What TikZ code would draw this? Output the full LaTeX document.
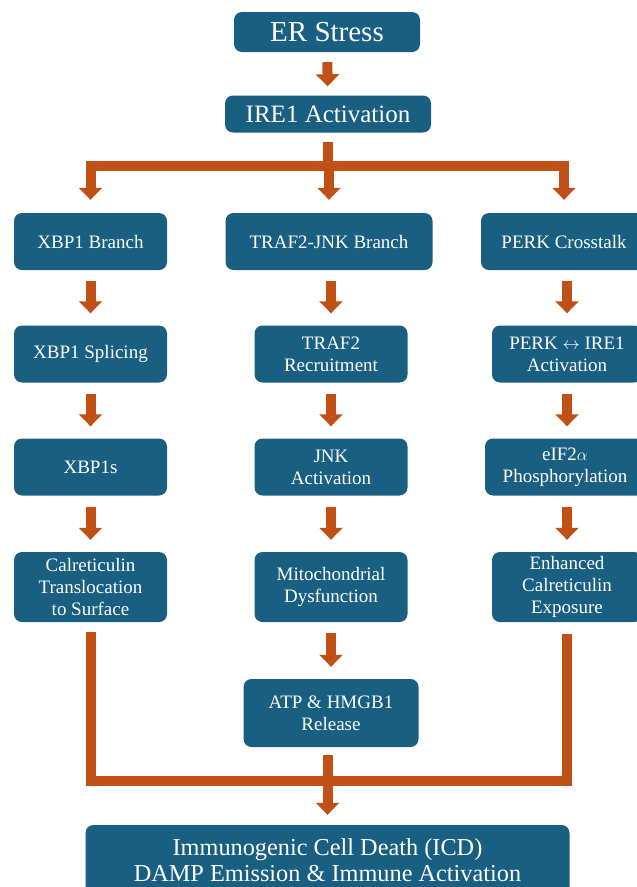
\documentclass[tikz,border=0pt]{standalone}
\usepackage{fontspec}
\setmainfont{Liberation Serif}
\usetikzlibrary{arrows.meta}
\definecolor{boxblue}{RGB}{24,95,130}
\definecolor{flowcol}{RGB}{192,80,22}

\begin{document}
\begin{tikzpicture}[x=1pt,y=-1pt,
    stepbox/.style={fill=boxblue,rounded corners=8pt,text=white,align=center,inner sep=0pt,
        font=\fontsize{19}{22}\selectfont,minimum width=153pt,minimum height=57pt},
    flowline/.style={draw=flowcol,line width=10pt},
    flow/.style={flowline,-{Triangle[width=23pt,length=12pt]},shorten >=12pt,shorten <=11pt}]
		\useasboundingbox (0,0) rectangle (637,887);
		\clip (0,0) rectangle (637,887);
		% top
		\node[stepbox,minimum width=186pt,minimum height=40pt,font=\fontsize{29}{32}\selectfont] (er) at (327,32) {ER Stress};
		\node[stepbox,minimum width=206pt,minimum height=37pt,font=\fontsize{25}{28}\selectfont] (ire) at (328,114) {IRE1 Activation};
		% three branches
		\node[stepbox] (xbpbr) at (90.5,241.5) {XBP1 Branch};
		\node[stepbox,minimum width=207pt] (trafbr) at (329,241.5) {TRAF2-JNK Branch};
		\node[stepbox,minimum width=166pt] (perkbr) at (564,241.5) {PERK Crosstalk};
		\node[stepbox] (splice) at (90.5,354) {XBP1 Splicing};
		\node[stepbox] (trafrec) at (331,354) {TRAF2\\Recruitment};
		\node[stepbox,minimum width=150pt] (perkire) at (567,354) {PERK $\leftrightarrow$ IRE1\\Activation};
		\node[stepbox] (xbps) at (90.5,467) {XBP1s};
		\node[stepbox] (jnk) at (331,467) {JNK\\Activation};
		\node[stepbox,minimum width=160pt] (eif) at (565,467) {eIF2$\alpha$\\Phosphorylation};
		\node[stepbox,minimum height=70pt] (calr) at (90.5,587) {Calreticulin\\Translocation\\to Surface};
		\node[stepbox,minimum height=70pt] (mito) at (331,587) {Mitochondrial\\Dysfunction};
		\node[stepbox,minimum width=150pt,minimum height=70pt] (enh) at (567,587) {Enhanced\\Calreticulin\\Exposure};
		\node[stepbox,minimum width=175pt,minimum height=68pt] (atp) at (331,713) {ATP \& HMGB1\\Release};
		\node[stepbox,minimum width=484pt,minimum height=70pt,font=\fontsize{24.3}{26}\selectfont] (icd) at (327.5,860) {Immunogenic Cell Death (ICD)\\DAMP Emission \& Immune Activation};
		% arrows
		\draw[flow,shorten <=10pt,shorten >=9pt] (er) -- (ire);
		\coordinate (split) at (328,166);
		\draw[flowline,shorten <=9pt] (ire.south) -- (split);
		\draw[flow,shorten <=0pt,shorten >=13pt] (split) -| (xbpbr.north);
		\draw[flow,shorten <=0pt,shorten >=13pt] (split) -| (trafbr.north);
		\draw[flow,shorten <=0pt,shorten >=13pt] (split) -| (perkbr.north);
		\draw[flow] (xbpbr) -- (splice);
		\draw[flow] (splice) -- (xbps);
		\draw[flow] (xbps) -- (calr);
		\draw[flow] (trafbr.south -| trafrec.north) -- (trafrec.north);
		\draw[flow] (trafrec) -- (jnk);
		\draw[flow] (jnk) -- (mito);
		\draw[flow] (mito) -- (atp);
		\draw[flow] (perkbr.south -| perkire.north) -- (perkire.north);
		\draw[flow] (perkire) -- (eif.north -| perkire.south);
		\draw[flow] (eif.south -| enh.north) -- (enh.north);
		% merge into ICD
		\coordinate (merge) at (327.5,781);
		\draw[flowline,shorten <=10pt] (calr.south) |- (merge);
		\draw[flowline,shorten <=12pt] (enh.south) |- (merge);
		\draw[flowline,shorten <=8pt] (atp.south -| merge) -- (merge);
		\draw[flow,shorten <=0pt,shorten >=10pt] (merge) -- (icd.north);
	\end{tikzpicture}
\end{document}
